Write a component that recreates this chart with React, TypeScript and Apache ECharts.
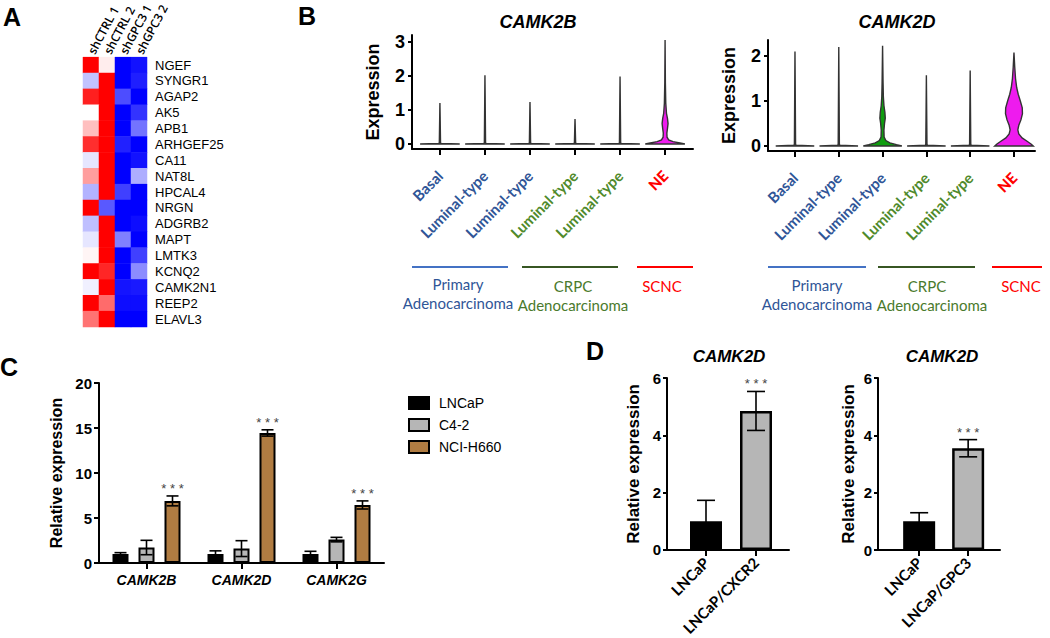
import React, { useEffect, useRef } from "react";
import * as echarts from "echarts";

// ---------- Panel A: heatmap ----------
const genes = ["NGEF", "SYNGR1", "AGAP2", "AK5", "APB1", "ARHGEF25", "CA11", "NAT8L", "HPCAL4", "NRGN", "ADGRB2", "MAPT", "LMTK3", "KCNQ2", "CAMK2N1", "REEP2", "ELAVL3"];
const samples = ["shCTRL 1", "shCTRL 2", "shGPC3 1", "shGPC3 2"];
const heatValues = [
  [1, 0.07, -1, -0.93],
  [-0.24, 1, -1, -0.88],
  [0.88, 1, -0.7, -1],
  [0, 1, -1, -0.8],
  [0.25, 1, -1, -0.55],
  [0.82, 1, -0.87, -1],
  [-0.1, 1, -1, -0.93],
  [0.38, 1, -1, -0.32],
  [-0.3, 1, -0.75, -1],
  [1, -0.65, -1, -1],
  [-0.25, 1, -1, -0.95],
  [-0.1, 1, -0.5, -1],
  [0.04, 1, -1, -0.75],
  [1, 0.85, -1, -0.45],
  [-0.06, 1, -0.92, -0.9],
  [1, 0.58, -0.95, -0.95],
  [0.55, 1, -1, -1],
];

// ---------- Panel B: violins ----------
const cellTypes = ["Basal", "Luminal-type", "Luminal-type", "Luminal-type", "Luminal-type", "NE"];
const cellTypeGroup = ["p", "p", "p", "c", "c", "n"];
const camk2bMax = [1.2, 2.02, 1.23, 0.73, 1.98, 3.05];
const camk2dMax = [2.1, 2.2, 2.23, 1.57, 1.68, 2.08];
// [expression, relative half width]
const camk2bNeProfile = [[0, 1], [0.03, 0.75], [0.07, 0.4], [0.12, 0.18], [0.2, 0.1], [0.32, 0.09], [0.45, 0.12], [0.6, 0.15], [0.75, 0.12], [0.9, 0.07], [1.2, 0.035], [1.8, 0.015], [3.05, 0]];
const camk2dLum3Profile = [[0, 1], [0.03, 0.72], [0.07, 0.38], [0.12, 0.17], [0.2, 0.08], [0.35, 0.07], [0.5, 0.1], [0.62, 0.14], [0.75, 0.12], [0.9, 0.07], [1.1, 0.04], [1.4, 0.025], [2.23, 0]];
const camk2dNeProfile = [[0, 1], [0.04, 0.9], [0.1, 0.7], [0.18, 0.42], [0.27, 0.25], [0.36, 0.2], [0.46, 0.25], [0.58, 0.36], [0.72, 0.44], [0.85, 0.43], [1.0, 0.33], [1.15, 0.22], [1.3, 0.14], [1.5, 0.08], [1.75, 0.04], [2.08, 0]];
const camk2bColors = ["#555", "#555", "#555", "#555", "#555", "#ee1bee"];
const camk2dColors = ["#555", "#555", "#0f9d0f", "#555", "#555", "#ee1bee"];

// ---------- Panel C ----------
const cGenes = ["CAMK2B", "CAMK2D", "CAMK2G"];
const cSeriesNames = ["LNCaP", "C4-2", "NCI-H660"];
const lncapMean = [1.0, 1.0, 1.0];
const lncapErr = [0.15, 0.35, 0.3];
const c42Mean = [1.72, 1.6, 2.6];
const c42Err = [0.8, 0.88, 0.25];
const h660Mean = [6.9, 14.45, 6.45];
const h660Err = [0.55, 0.35, 0.45];
const h660Signif = ["* * *", "* * *", "* * *"];
const cColors = ["#000000", "#b6b6b6", "#b07c42"];

// ---------- Panel D ----------
const dLeftNames = ["LNCaP", "LNCaP/CXCR2"];
const dLeftMean = [1.0, 4.85];
const dLeftErr = [0.73, 0.68];
const dLeftSignif = ["", "* * *"];
const dRightNames = ["LNCaP", "LNCaP/GPC3"];
const dRightMean = [1.0, 3.55];
const dRightErr = [0.3, 0.3];
const dRightSignif = ["", "* * *"];
const dColors = ["#000000", "#b6b6b6"];

const HALF = 0.44;
const FONT = "'Liberation Sans', Arial, sans-serif";

function flatProfile(max: number) {
  return [[0, 1], [0.018, 0.045], [0.05, 0.03], [max, 0]];
}

function violinSeries(axis: number, profiles: number[][][], colors: string[]) {
  return {
    type: "custom",
    xAxisIndex: axis,
    yAxisIndex: axis,
    silent: true,
    z: 3,
    data: profiles.map((_, i) => [i, 0]),
    renderItem: (params: any, api: any) => {
      const i = params.dataIndex;
      const prof = profiles[i];
      const right = prof.map(([y, w]) => api.coord([i + w * HALF, y]));
      const left = prof.slice().reverse().map(([y, w]) => api.coord([i - w * HALF, y]));
      return {
        type: "polygon",
        shape: { points: right.concat(left) },
        style: { fill: colors[i], stroke: "#333", lineWidth: 1.4 },
      };
    },
  };
}

function errorSeries(axis: number, means: number[], errs: number[], offsetPx: number, capHalf: number, signif: string[]) {
  return {
    type: "custom",
    xAxisIndex: axis,
    yAxisIndex: axis,
    silent: true,
    z: 5,
    data: means.map((m, i) => [i, m, errs[i]]),
    renderItem: (params: any, api: any) => {
      const xi = api.value(0);
      const m = api.value(1);
      const e = api.value(2);
      const top = api.coord([xi, m + e]);
      const bot = api.coord([xi, m - e]);
      const x = top[0] + offsetPx;
      const ls = { stroke: "#000", lineWidth: 1.6 };
      const children: any[] = [
        { type: "line", shape: { x1: x, y1: top[1], x2: x, y2: bot[1] }, style: ls },
        { type: "line", shape: { x1: x - capHalf, y1: top[1], x2: x + capHalf, y2: top[1] }, style: ls },
        { type: "line", shape: { x1: x - capHalf, y1: bot[1], x2: x + capHalf, y2: bot[1] }, style: ls },
      ];
      const s = signif[params.dataIndex];
      if (s) {
        children.push({
          type: "text",
          x: x,
          y: top[1] - 1,
          style: { text: s, fill: "#444", font: `13px ${FONT}`, align: "center", verticalAlign: "bottom", textAlign: "center", textVerticalAlign: "bottom" },
        });
      }
      return { type: "group", children };
    },
  };
}

const axisLineBlack = { show: true, onZero: false, lineStyle: { color: "#000", width: 2 } };
const tickBlack = (len: number) => ({ show: true, length: len, lineStyle: { color: "#000", width: 2 } });

function violinXAxis(grid: number, min: number, max: number) {
  return {
    gridIndex: grid,
    type: "value",
    min,
    max,
    splitLine: { show: false },
    axisLine: axisLineBlack,
    axisTick: { ...tickBlack(6), customValues: [0, 1, 2, 3, 4, 5] },
    axisLabel: {
      customValues: [0, 1, 2, 3, 4, 5],
      rotate: 45,
      margin: 24,
      formatter: (v: number) => {
        const i = Math.round(v);
        return `{${cellTypeGroup[i]}|${cellTypes[i]}}`;
      },
      rich: {
        p: { color: "#2f5597", fontFamily: "Lato", fontWeight: "bold", fontSize: 15 },
        c: { color: "#4f8a2b", fontFamily: "Lato", fontWeight: "bold", fontSize: 15 },
        n: { color: "#ff0000", fontFamily: "Lato", fontWeight: 900, fontSize: 15 },
      },
    },
  };
}

function violinYAxis(grid: number, min: number, max: number, ticks: number[]) {
  return {
    gridIndex: grid,
    type: "value",
    min,
    max,
    splitLine: { show: false },
    axisLine: axisLineBlack,
    axisTick: { ...tickBlack(4), customValues: ticks },
    axisLabel: { customValues: ticks, fontSize: 18, fontWeight: "bold", color: "#000", margin: 7, fontFamily: FONT },
    name: "Expression",
    nameLocation: "middle",
    nameGap: 30,
    nameTextStyle: { fontSize: 18, fontWeight: "bold", color: "#000", fontFamily: FONT },
  };
}

function dXAxis(grid: number, min: number, max: number, names: string[]) {
  return {
    gridIndex: grid,
    type: "value",
    min,
    max,
    splitLine: { show: false },
    axisLine: axisLineBlack,
    axisTick: { ...tickBlack(6), customValues: [0, 1] },
    axisLabel: {
      customValues: [0, 1],
      rotate: 45,
      margin: 10,
      color: "#000",
      fontFamily: "Lato",
      fontWeight: "bold",
      fontSize: 15,
      formatter: (v: number) => names[Math.round(v)],
    },
  };
}

function dYAxis(grid: number, gap: number) {
  return {
    gridIndex: grid,
    type: "value",
    min: 0,
    max: 6,
    interval: 2,
    splitLine: { show: false },
    axisLine: axisLineBlack,
    axisTick: tickBlack(4),
    axisLabel: { fontSize: 15, fontWeight: "bold", color: "#000", margin: 6, fontFamily: FONT },
    name: "Relative expression",
    nameLocation: "middle",
    nameGap: gap,
    nameTextStyle: { fontSize: 17, fontWeight: "bold", color: "#000", fontFamily: FONT },
  };
}

function dBarSeries(grid: number, means: number[]) {
  return {
    type: "bar",
    xAxisIndex: grid,
    yAxisIndex: grid,
    barWidth: 32,
    z: 2,
    data: means.map((m, i) => ({ value: [i, m], itemStyle: { color: dColors[i], borderColor: "#000", borderWidth: 2.5 } })),
  };
}

function txt(text: string, x: number, y: number, font: string, fill: string, align = "center") {
  return {
    type: "text",
    x,
    y,
    style: { text, font, fill, align, verticalAlign: "middle", textAlign: align, textVerticalAlign: "middle" },
  };
}

function hline(x1: number, x2: number, y: number, color: string) {
  return { type: "line", shape: { x1, y1: y, x2, y2: y }, style: { stroke: color, lineWidth: 2 } };
}

export default function App() {
  const ref = useRef<HTMLDivElement>(null);

  useEffect(() => {
    document.body.style.margin = "0";
    const chart = echarts.init(ref.current!, null, { renderer: "svg" });

    const heatData: number[][] = [];
    heatValues.forEach((row, r) => row.forEach((v, c) => heatData.push([c, r, v])));

    const bProfiles = camk2bMax.map((m, i) => (i === 5 ? camk2bNeProfile : flatProfile(m)));
    const dProfiles = camk2dMax.map((m, i) => (i === 5 ? camk2dNeProfile : i === 2 ? camk2dLum3Profile : flatProfile(m)));

    const cMeans = [lncapMean, c42Mean, h660Mean];
    const cErrs = [lncapErr, c42Err, h660Err];

    const groupFont = `15px Lato`;
    const option: any = {
      animation: false,
      textStyle: { fontFamily: FONT },
      grid: [
        { left: 83, top: 53, width: 64, height: 274 },
        { left: 412, top: 35, width: 281, height: 114 },
        { left: 768, top: 40, width: 267, height: 111 },
        { left: 99, top: 383, width: 285, height: 180 },
        { left: 667, top: 378, width: 122, height: 172 },
        { left: 878, top: 378, width: 122, height: 172 },
      ],
      xAxis: [
        {
          gridIndex: 0,
          type: "category",
          data: samples,
          position: "top",
          axisLine: { show: false },
          axisTick: { show: false },
          axisLabel: { interval: 0, rotate: -62, align: "left", verticalAlign: "middle", margin: 4, fontSize: 12, fontWeight: 600, fontFamily: "Open Sans", color: "#000" },
        },
        violinXAxis(1, -0.62, 5.62),
        violinXAxis(2, -0.616, 5.48),
        {
          gridIndex: 3,
          type: "category",
          data: cGenes,
          axisLine: axisLineBlack,
          axisTick: { ...tickBlack(6), alignWithLabel: true },
          axisLabel: { fontSize: 14, fontWeight: "bold", fontStyle: "italic", color: "#000", margin: 10, fontFamily: FONT },
        },
        dXAxis(4, -0.78, 1.66, dLeftNames),
        dXAxis(5, -0.84, 1.65, dRightNames),
      ],
      yAxis: [
        {
          gridIndex: 0,
          type: "category",
          data: genes,
          inverse: true,
          position: "right",
          axisLine: { show: false },
          axisTick: { show: false },
          axisLabel: { interval: 0, fontSize: 13, color: "#000", margin: 8, fontFamily: FONT },
        },
        violinYAxis(1, -0.147, 3.2, [0, 1, 2, 3]),
        violinYAxis(2, -0.111, 2.356, [0, 1, 2]),
        {
          gridIndex: 3,
          type: "value",
          min: 0,
          max: 20,
          interval: 5,
          splitLine: { show: false },
          axisLine: axisLineBlack,
          axisTick: tickBlack(5),
          axisLabel: { fontSize: 15, fontWeight: "bold", color: "#000", margin: 7, fontFamily: FONT },
          name: "Relative expression",
          nameLocation: "middle",
          nameGap: 35,
          nameTextStyle: { fontSize: 16, fontWeight: "bold", color: "#000", fontFamily: FONT },
        },
        dYAxis(4, 25),
        dYAxis(5, 21),
      ],
      visualMap: {
        show: false,
        min: -1,
        max: 1,
        dimension: 2,
        seriesIndex: 0,
        inRange: { color: ["#0000ff", "#ffffff", "#ff0000"] },
      },
      legend: {
        left: 403,
        top: 391,
        orient: "vertical",
        icon: "rect",
        itemWidth: 20,
        itemHeight: 12,
        itemGap: 8,
        data: cSeriesNames,
        itemStyle: { borderColor: "#000", borderWidth: 2 },
        textStyle: { fontSize: 14, color: "#000", fontFamily: FONT, padding: [0, 0, 0, 5] },
      },
      series: [
        { type: "heatmap", xAxisIndex: 0, yAxisIndex: 0, data: heatData, silent: true },
        violinSeries(1, bProfiles, camk2bColors),
        violinSeries(2, dProfiles, camk2dColors),
        ...cSeriesNames.map((name, s) => ({
          type: "bar",
          name,
          xAxisIndex: 3,
          yAxisIndex: 3,
          barWidth: 16,
          barGap: "62.5%",
          itemStyle: { color: cColors[s], borderColor: "#000", borderWidth: 2 },
          data: cMeans[s],
        })),
        ...cSeriesNames.map((_, s) => errorSeries(3, cMeans[s], cErrs[s], (s - 1) * 26, 6, s === 2 ? h660Signif : ["", "", ""])),
        dBarSeries(4, dLeftMean),
        errorSeries(4, dLeftMean, dLeftErr, 0, 9, dLeftSignif),
        dBarSeries(5, dRightMean),
        errorSeries(5, dRightMean, dRightErr, 0, 9, dRightSignif),
      ],
      graphic: [
        txt("A", 3, 17, `bold 25px ${FONT}`, "#000", "left"),
        txt("B", 298, 16, `bold 25px ${FONT}`, "#000", "left"),
        txt("C", 0, 367, `bold 25px ${FONT}`, "#000", "left"),
        txt("D", 586, 351, `bold 25px ${FONT}`, "#000", "left"),
        txt("CAMK2B", 538, 22, `italic bold 18px ${FONT}`, "#000"),
        txt("CAMK2D", 897, 22, `italic bold 18px ${FONT}`, "#000"),
        txt("CAMK2D", 729, 356, `italic bold 17px ${FONT}`, "#000"),
        txt("CAMK2D", 942, 356, `italic bold 17px ${FONT}`, "#000"),
        hline(412, 508, 267, "#4472c4"),
        hline(522, 618, 267, "#375623"),
        hline(637, 693, 267, "#ff0000"),
        hline(768, 866, 267, "#4472c4"),
        hline(878, 975, 267, "#375623"),
        hline(992, 1042, 267, "#ff0000"),
        txt("Primary", 458, 284, groupFont, "#2f5597"),
        txt("Adenocarcinoma", 458, 303, groupFont, "#2f5597"),
        txt("CRPC", 573, 286, groupFont, "#4a7a2c"),
        txt("Adenocarcinoma", 573, 305, groupFont, "#4a7a2c"),
        txt("SCNC", 662, 286, groupFont, "#ff0000"),
        txt("Primary", 817, 285, groupFont, "#2f5597"),
        txt("Adenocarcinoma", 817, 304, groupFont, "#2f5597"),
        txt("CRPC", 927, 286, groupFont, "#4a7a2c"),
        txt("Adenocarcinoma", 932, 305, groupFont, "#4a7a2c"),
        txt("SCNC", 1021, 286, groupFont, "#ff0000"),
      ],
    };

    chart.setOption(option);
    return () => chart.dispose();
  }, []);

  return <div ref={ref} style={{ width: 1050, height: 638 }} />;
}
